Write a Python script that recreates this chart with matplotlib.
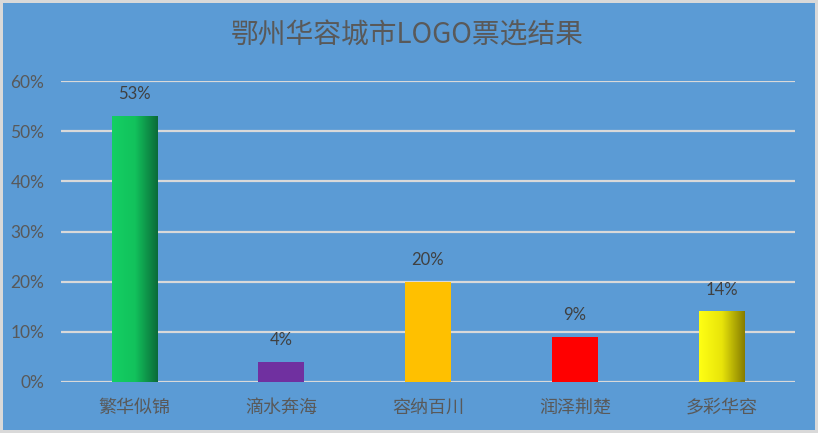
import matplotlib
matplotlib.use("Agg")
import matplotlib.pyplot as plt
import numpy as np
from matplotlib.colors import LinearSegmentedColormap

plt.rcParams['font.family'] = ['Noto Sans CJK SC', 'DejaVu Sans']

title = "鄂州华容城市LOGO票选结果"
categories = ["繁华似锦", "滴水奔海", "容纳百川", "润泽荆楚", "多彩华容"]
values = [0.53, 0.04, 0.20, 0.09, 0.14]
labels = ["53%", "4%", "20%", "9%", "14%"]
yticks = [0, 0.1, 0.2, 0.3, 0.4, 0.5, 0.6]
ytick_labels = ["0%", "10%", "20%", "30%", "40%", "50%", "60%"]
colors = ["#17CC62", "#7030A0", "#FFC000", "#FF0000", "#FFFF00"]
gradients = {0: ["#14CF63", "#12C25C", "#0B6A38"], 4: ["#FFFF14", "#E8E40A", "#857C00"]}

bg = "#5B9BD5"
fig = plt.figure(figsize=(8.18, 4.33), dpi=100, facecolor=bg)
fig.patch.set_edgecolor("#D9D9D9")
fig.patch.set_linewidth(4)
ax = fig.add_axes([61/818, 1-382/433, (795-61)/818, (382-81)/433])
ax.set_facecolor(bg)

x = np.arange(len(categories))
bars = ax.bar(x, values, width=0.31, color=colors, zorder=3)

for i, cols in gradients.items():
    b = bars[i]
    b.set_alpha(0)
    cmap = LinearSegmentedColormap.from_list("g%d" % i, cols)
    grad = np.linspace(0, 1, 256).reshape(1, -1)
    ax.imshow(grad, cmap=cmap, aspect="auto", zorder=3,
              extent=[b.get_x(), b.get_x() + b.get_width(), 0, b.get_height()])
ax.set_xlim(-0.5, len(categories) - 0.5)
ax.set_ylim(0, 0.6)

ax.set_yticks(yticks)
ax.set_yticklabels(ytick_labels, color="#595959", fontsize=12.5, family=["Lato", "DejaVu Sans"])
ax.set_xticks(x)
ax.set_xticklabels(categories, color="#595959", fontsize=13)
ax.tick_params(axis="both", length=0)
ax.tick_params(axis="x", pad=12)
ax.tick_params(axis="y", pad=12)
ax.grid(axis="y", color="#D9D9D9", linewidth=1.6, zorder=0)
for s in ax.spines.values():
    s.set_visible(False)

for b, lab in zip(bars, labels):
    ax.annotate(lab, (b.get_x() + b.get_width()/2, b.get_height()),
                xytext=(0, 10), textcoords="offset points", ha="center", va="bottom",
                color="#404040", fontsize=12, family=["Lato", "DejaVu Sans"])

fig.text(407/818, 1-36/433, title, ha="center", va="center", color="#595959", fontsize=20)

fig.savefig("out.png", dpi=100, facecolor=bg, edgecolor="#D9D9D9")
